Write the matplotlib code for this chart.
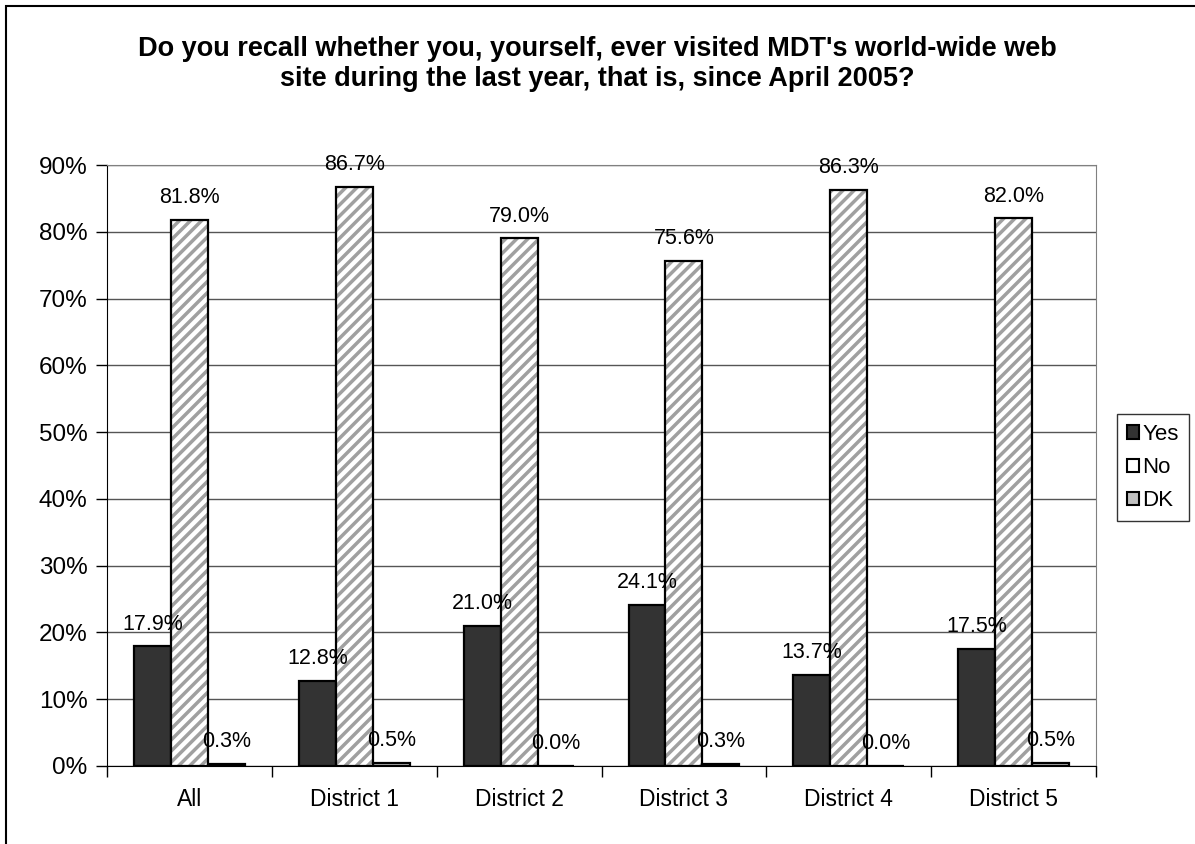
import matplotlib
matplotlib.use("Agg")
import matplotlib.pyplot as plt
import numpy as np
from matplotlib.patches import Rectangle, Patch

plt.rcParams['font.family'] = ['Liberation Sans', 'DejaVu Sans']
plt.rcParams['hatch.linewidth'] = 2.5

categories = ["All", "District 1", "District 2", "District 3", "District 4", "District 5"]
yes = [17.9, 12.8, 21.0, 24.1, 13.7, 17.5]
no = [81.8, 86.7, 79.0, 75.6, 86.3, 82.0]
dk = [0.3, 0.5, 0.0, 0.3, 0.0, 0.5]
series_names = ["Yes", "No", "DK"]
title = "Do you recall whether you, yourself, ever visited MDT's world-wide web\nsite during the last year, that is, since April 2005?"

fig = plt.figure(figsize=(11.95, 8.44), dpi=100)
ax = fig.add_axes([107/1195, 1-766/844, (1096-107)/1195, (766-165)/844])

# outer border
fig.patches.append(Rectangle((6/1195, -0.1), 1.2, 1-6/844+0.1, transform=fig.transFigure,
                             fill=False, edgecolor='black', lw=1.5, zorder=0))

x = np.arange(len(categories))
w = 0.224
ax.bar(x - w, yes, w, color='#333333', edgecolor='black', lw=1.6, zorder=3)
ax.bar(x, no, w, color='white', edgecolor='#a0a0a0', hatch='///', lw=0, zorder=3)
ax.bar(x, no, w, color='none', edgecolor='black', lw=1.6, zorder=4)
ax.bar(x + w, dk, w, color='#c0c0c0', edgecolor='black', lw=1.6, zorder=3)

for xs, vals in ((x - w, yes), (x, no), (x + w, dk)):
    for xi, v in zip(xs, vals):
        ax.text(xi, v + 2.5, f"{v:.1f}%", ha='center', va='baseline', fontsize=15.5, zorder=5)

ax.set_xlim(-0.5, len(categories) - 0.5)
ax.set_ylim(0, 90)
ax.set_yticks(np.arange(0, 91, 10))
ax.set_yticklabels([f"{t}%" for t in range(0, 91, 10)], fontsize=17.5)
ax.yaxis.grid(True, color='#555555', lw=1.0, zorder=0)
ax.set_axisbelow(True)
ax.set_xticks(x)
ax.set_xticklabels(categories, fontsize=16.5)
ax.set_xticks(np.arange(-0.5, len(categories), 1), minor=True)
ax.tick_params(axis='x', which='major', length=0, pad=16)
ax.tick_params(axis='x', which='minor', length=8, direction='out', width=1)
ax.tick_params(axis='y', length=8, direction='out', pad=6, width=1)
for s in ('top', 'right'):
    ax.spines[s].set_color('#808080')
ax.spines['left'].set_color('black')
ax.spines['bottom'].set_color('black')

fig.text(0.5, 1-64/844, title, ha='center', va='center', fontsize=19.5, fontweight='bold', linespacing=1.2)

handles = [Patch(facecolor='#333333', edgecolor='black', lw=1.5),
           Patch(facecolor='white', edgecolor='black', lw=1.5),
           Patch(facecolor='#c0c0c0', edgecolor='black', lw=1.5)]
leg = fig.legend(handles, series_names, loc='upper left', bbox_to_anchor=(1117/1195, 1-414/844),
                 fontsize=16, frameon=True, fancybox=False, edgecolor='black',
                 handlelength=0.55, handleheight=0.55, handletextpad=0.15, borderpad=0.45,
                 labelspacing=0.55, borderaxespad=0)
leg.get_frame().set_linewidth(1.0)

fig.savefig("out.png", dpi=100)
